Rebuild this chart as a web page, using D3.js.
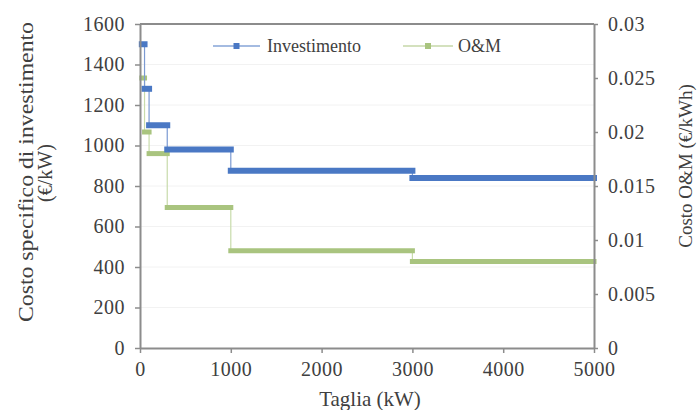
<!DOCTYPE html>
<html>
<head>
<meta charset="utf-8">
<script src="https://cdn.jsdelivr.net/npm/d3@7"></script>
<style>
  html, body { margin: 0; padding: 0; background: #fff; }
  svg { display: block; }
  text { font-family: "Liberation Serif", "Times New Roman", serif; fill: #404040; }
</style>
</head>
<body>
<svg id="chart" width="697" height="410"></svg>
<script>
// ---- data ----
const sizeBreaks = [20, 50, 100, 300, 1000, 3000, 5000];     // kW, step edges
const investValues = [1500, 1280, 1100, 980, 875, 840];       // €/kW
const omValues = [0.025, 0.020, 0.018, 0.013, 0.009, 0.008]; // €/kWh
const xTicks = [0, 1000, 2000, 3000, 4000, 5000];
const leftTicks = [0, 200, 400, 600, 800, 1000, 1200, 1400, 1600];
const rightTicks = [0, 0.005, 0.01, 0.015, 0.02, 0.025, 0.03];
const seriesNames = ["Investimento", "O&M"];

const blue = "#4a78c4", blueThin = "#7b9ad2";
const green = "#a9c47f", greenThin = "#c8dbab";
const axisCol = "#8c8c8c";

const svg = d3.select("#chart");
const L = 140, R = 594, T = 24, B = 348;

const x = d3.scaleLinear().domain([0, 5000]).range([L, R]);
const yL = d3.scaleLinear().domain([0, 1600]).range([B, T]);
const yR = d3.scaleLinear().domain([0, 0.03]).range([B, T]);

// gridlines
svg.append("g").selectAll("line").data(leftTicks.slice(1)).join("line")
  .attr("x1", L).attr("x2", R)
  .attr("y1", d => yL(d)).attr("y2", d => yL(d))
  .attr("stroke", "#f2f2f2").attr("stroke-width", 1);

// step series
function drawSeries(values, y, thickCol, thinCol, thick) {
  const pts = [];
  values.forEach((v, i) => { pts.push([sizeBreaks[i], v]); pts.push([sizeBreaks[i + 1], v]); });
  const line = d3.line().x(d => x(d[0])).y(d => y(d[1]));
  svg.append("path").attr("d", line(pts)).attr("fill", "none")
    .attr("stroke", thinCol).attr("stroke-width", 1.2);
  svg.append("g").selectAll("line").data(values).join("line")
    .attr("x1", (d, i) => x(sizeBreaks[i]))
    .attr("x2", (d, i) => x(sizeBreaks[i + 1]))
    .attr("y1", d => y(d)).attr("y2", d => y(d))
    .attr("stroke", thickCol).attr("stroke-width", thick)
    .attr("stroke-linecap", "square");
}
drawSeries(omValues, yR, green, greenThin, 5);
drawSeries(investValues, yL, blue, blueThin, 6);

// frame top
svg.append("line").attr("x1", L).attr("x2", R).attr("y1", T).attr("y2", T)
  .attr("stroke", axisCol).attr("stroke-width", 2);

function styleAxis(g) {
  g.attr("font-family", null).attr("font-size", null);
  g.select(".domain").attr("stroke", axisCol).attr("stroke-width", 2);
  g.selectAll(".tick line").attr("stroke", axisCol).attr("stroke-width", 1.5);
  g.selectAll(".tick text").attr("font-size", 20).attr("fill", "#404040")
    .style("font-family", "'Liberation Serif', serif").style("letter-spacing", "0.5px");
}

svg.append("g").attr("transform", `translate(${L},0)`)
  .call(d3.axisLeft(yL).tickValues(leftTicks).tickSize(5).tickSizeOuter(0).tickPadding(10).tickFormat(d3.format("d")))
  .call(styleAxis);
svg.append("g").attr("transform", `translate(${R},0)`)
  .call(d3.axisRight(yR).tickValues(rightTicks).tickSize(4).tickSizeOuter(0).tickPadding(10).tickFormat(d => d === 0 ? "0" : String(+d.toFixed(3))))
  .call(styleAxis);
svg.append("g").attr("transform", `translate(0,${B})`)
  .call(d3.axisBottom(x).tickValues(xTicks).tickSize(5).tickSizeOuter(0).tickPadding(9).tickFormat(d3.format("d")))
  .call(styleAxis);

// axis titles
svg.append("text").attr("transform", "translate(33,172) rotate(-90)")
  .attr("text-anchor", "middle").attr("font-size", 20)
  .attr("textLength", 300).attr("lengthAdjust", "spacingAndGlyphs")
  .text("Costo specifico di investimento");
svg.append("text").attr("transform", "translate(52,173) rotate(-90)")
  .attr("text-anchor", "middle").attr("font-size", 20)
  .text("(€/kW)");
svg.append("text").attr("transform", "translate(692,166) rotate(-90)")
  .attr("text-anchor", "middle").attr("font-size", 19)
  .text("Costo O&M (€/kWh)");
svg.append("text").attr("x", 370).attr("y", 406)
  .attr("text-anchor", "middle").attr("font-size", 21)
  .text("Taglia (kW)");

// legend
const legend = [
  { name: seriesNames[0], col: blue, x0: 213, x1: 260, tx: 267 },
  { name: seriesNames[1], col: green, x0: 403, x1: 453, tx: 458 }
];
const lg = svg.append("g");
legend.forEach(l => {
  lg.append("line").attr("x1", l.x0).attr("x2", l.x1).attr("y1", 46).attr("y2", 46)
    .attr("stroke", l.col).attr("stroke-width", 1.2);
  lg.append("rect").attr("x", (l.x0 + l.x1) / 2 - 3).attr("y", 43).attr("width", 6).attr("height", 6)
    .attr("fill", l.col);
  lg.append("text").attr("x", l.tx).attr("y", 52).attr("font-size", 18).text(l.name);
});
</script>
</body>
</html>
